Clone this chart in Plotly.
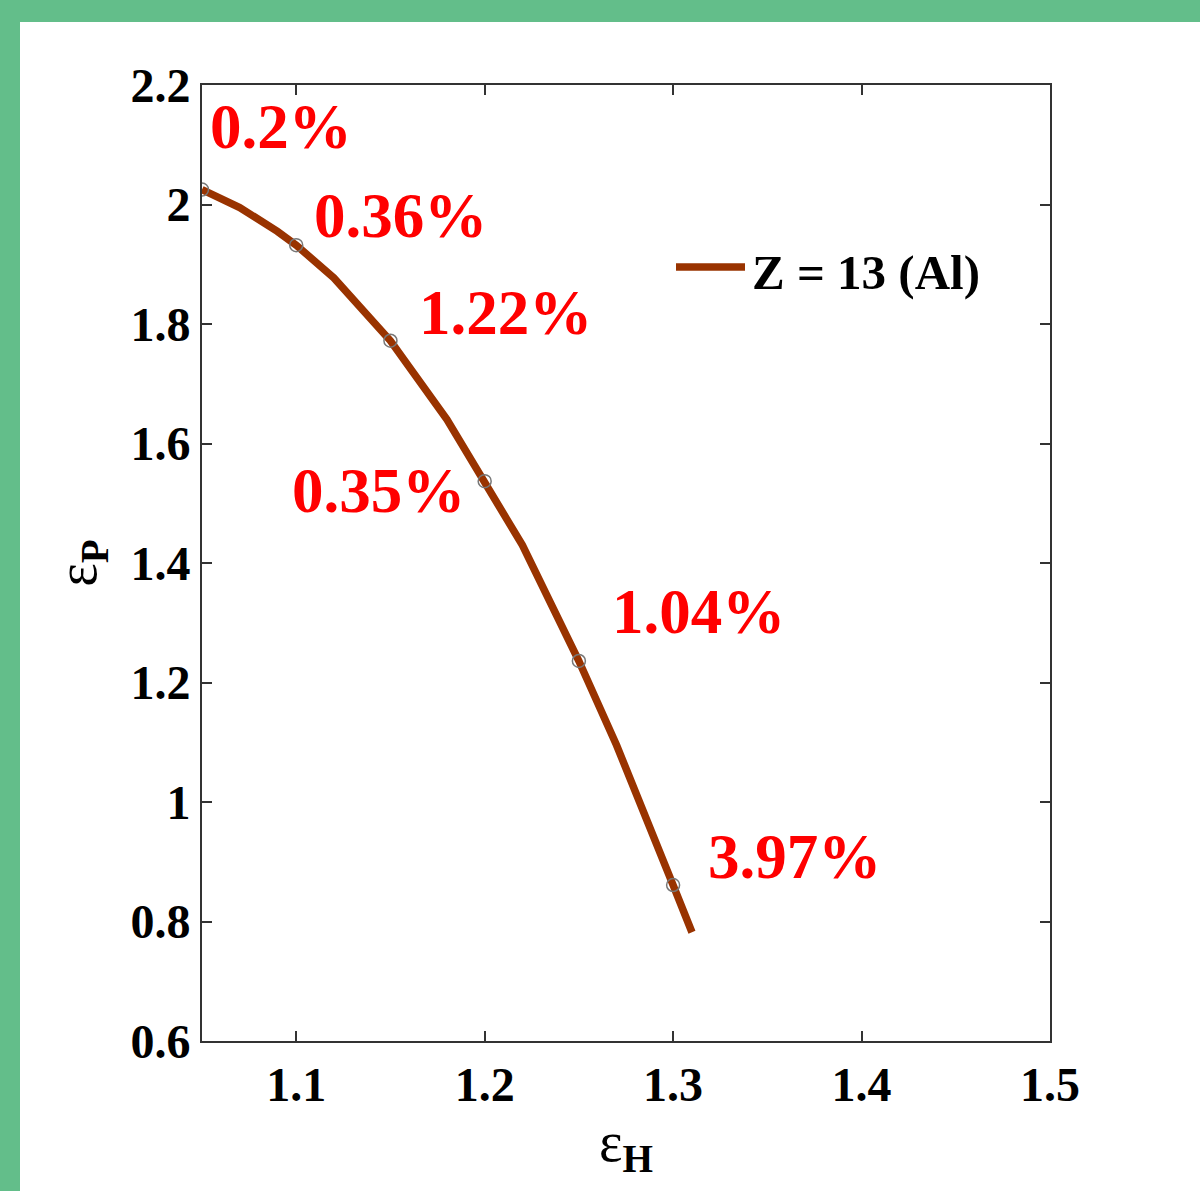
import plotly.graph_objects as go

# Sampled points (open circles)
eps_h_pts = [1.05, 1.10, 1.15, 1.20, 1.25, 1.30]
eps_p_pts = [2.025, 1.932, 1.772, 1.537, 1.236, 0.861]

# Fitted curve for Z = 13 (Al)
eps_h_curve = [1.05, 1.07, 1.09, 1.10, 1.12, 1.15, 1.18, 1.20, 1.22, 1.25, 1.27, 1.30, 1.31]
eps_p_curve = [2.025, 1.995, 1.955, 1.932, 1.877, 1.772, 1.640, 1.537, 1.430, 1.236, 1.095, 0.861, 0.782]
series_name = "Z = 13 (Al)"

# Relative error labels and their anchor points (left edge, vertical middle)
err_labels = ["0.2%", "0.36%", "1.22%", "0.35%", "1.04%", "3.97%"]
label_x = [1.053, 1.1086, 1.1641, 1.0965, 1.2663, 1.3176]
label_y = [2.130, 1.981, 1.818, 1.520, 1.318, 0.908]

x_ticks = [1.1, 1.2, 1.3, 1.4, 1.5]
x_ticktext = ["1.1", "1.2", "1.3", "1.4", "1.5"]
y_ticks = [0.6, 0.8, 1.0, 1.2, 1.4, 1.6, 1.8, 2.0, 2.2]
y_ticktext = ["0.6", "0.8", "1", "1.2", "1.4", "1.6", "1.8", "2", "2.2"]

SERIF = "Liberation Serif, Times New Roman, serif"
LINE_COLOR = "#993300"
GREEN = "#63BE8A"

W, H = 1200, 1191
ml, mr, mt, mb = 202, 150, 85, 150
pw, ph = W - ml - mr, H - mt - mb


def px_to_paper_x(px):
    return (px - ml) / pw


def px_to_paper_y(py):
    return (H - mb - py) / ph


fig = go.Figure()

fig.add_trace(go.Scatter(
    x=eps_h_curve, y=eps_p_curve, mode="lines",
    line=dict(color=LINE_COLOR, width=7.5),
    name=series_name, showlegend=False,
))
fig.add_trace(go.Scatter(
    x=eps_h_pts, y=eps_p_pts, mode="markers",
    marker=dict(symbol="circle-open", size=13, color="#777777", line=dict(width=1.5)),
    showlegend=False,
))

for txt, lx, ly in zip(err_labels, label_x, label_y):
    fig.add_annotation(
        x=lx, y=ly, text=txt, showarrow=False,
        xanchor="left", yanchor="middle",
        font=dict(family=SERIF, size=63, color="#FF0000", weight="bold"),
    )

# Legend key: long line sample followed by the series name
key_y = px_to_paper_y(267)
fig.add_shape(type="line", xref="paper", yref="paper",
              x0=px_to_paper_x(676), x1=px_to_paper_x(745), y0=key_y, y1=key_y,
              line=dict(color=LINE_COLOR, width=7.5))
fig.add_annotation(
    xref="paper", yref="paper", x=px_to_paper_x(750), y=px_to_paper_y(272),
    text=f"<b>{series_name}</b>", showarrow=False,
    xanchor="left", yanchor="middle",
    font=dict(family=SERIF, size=49, color="black"),
)

# Green frame strips along the left and top edges of the page
fig.add_shape(type="rect", xref="paper", yref="paper",
              x0=px_to_paper_x(0), x1=px_to_paper_x(20),
              y0=px_to_paper_y(H), y1=px_to_paper_y(0),
              fillcolor=GREEN, line=dict(width=0), layer="below")
fig.add_shape(type="rect", xref="paper", yref="paper",
              x0=px_to_paper_x(0), x1=px_to_paper_x(W),
              y0=px_to_paper_y(22), y1=px_to_paper_y(0),
              fillcolor=GREEN, line=dict(width=0), layer="below")

axis_common = dict(
    showgrid=False, zeroline=False,
    showline=True, linecolor="#333333", linewidth=2,
    mirror="ticks", ticks="inside", ticklen=10, tickwidth=2, tickcolor="#333333",
    tickfont=dict(family=SERIF, size=48, color="black", weight="bold"),
)

fig.update_xaxes(
    range=[1.05, 1.5], tickvals=x_ticks, ticktext=x_ticktext,
    title=dict(text="ε<sub><b>H</b></sub>", font=dict(family=SERIF, size=56, color="black"), standoff=10),
    **axis_common,
)
fig.update_yaxes(
    range=[0.6, 2.2], tickvals=y_ticks, ticktext=y_ticktext,
    title=dict(text="ε<sub><b>P</b></sub>", font=dict(family=SERIF, size=56, color="black"), standoff=16),
    **axis_common,
)

fig.update_layout(
    width=W, height=H,
    margin=dict(l=ml, r=mr, t=mt, b=mb),
    paper_bgcolor="white", plot_bgcolor="white",
    showlegend=False,
)

fig.write_html("out.html")
